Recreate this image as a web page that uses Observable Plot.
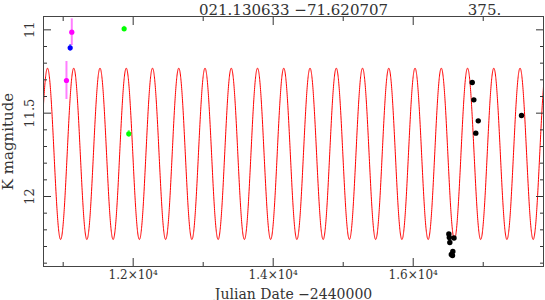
<!DOCTYPE html>
<html><head><meta charset="utf-8">
<script src="https://cdn.jsdelivr.net/npm/d3@7"></script>
<script src="https://cdn.jsdelivr.net/npm/@observablehq/plot@0.6"></script>
<style>body{margin:0;background:#fff} svg{display:block}</style>
</head><body><div id="chart"></div>
<script>
// ---- data ----
const titleCoords = "021.130633 \u221271.620707";
const titlePeriod = "375.";
const xTitle = "Julian Date \u22122440000";
const yTitle = "K magnitude";

// model light curve parameters (sinusoid shown in red)
const period = 375;        // days
const epochMax = 10776;    // JD-2440000 of a brightness maximum
const meanMag = 11.744;
const amplitude = 0.514;

// observations
const magentaT = [11123, 11047];
const magentaK = [11.014, 11.304];
const magentaErr = [0.08, 0.114];

const blueT = [11100];
const blueK = [11.108];
const blueErr = [0.02];

const greenT = [11871, 11937];
const greenK = [10.994, 11.624];
const greenErr = [0.015, 0.02];

const blackT = [16843, 16866, 16929, 16894, 17547, 16509, 16516, 16583, 16523, 16566, 16544, 16561];
const blackK = [11.316, 11.42, 11.546, 11.62, 11.514, 12.225, 12.246, 12.249, 12.276, 12.33, 12.348, 12.354];

// axes
const xDomain = [10719, 17861];
const yDomain = [10.92, 12.42];
const xMajor = [12000, 14000, 16000];
const xMinor = [11000, 13000, 15000, 17000];
const yMajor = [11, 11.5, 12];
const yMinor = [11.1, 11.2, 11.3, 11.4, 11.6, 11.7, 11.8, 11.9, 12.1, 12.2, 12.3, 12.4];

// ---- build tables ----
const model = d3.range(xDomain[0], xDomain[1] + 2, 2).map(t => ({
  t, k: meanMag - amplitude * Math.cos(2 * Math.PI * (t - epochMax) / period)
}));
const pts = (T, K, E, c) => T.map((t, i) => ({t, k: K[i], e: E ? E[i] : 0, c}));
const magenta = pts(magentaT, magentaK, magentaErr, "#ff00ff");
const blue = pts(blueT, blueK, blueErr, "#0000ff");
const green = pts(greenT, greenK, greenErr, "#00ff00");
const black = pts(blackT, blackK, null, "#000000");
const colored = [...magenta, ...blue, ...green];

const ink = "#333333";
const font = "DejaVu Serif";
const fmtX = d => `${(d / 1e4).toFixed(1)}\u00d710\u2074`;
const blank = () => "";

const chart = Plot.plot({
  width: 545, height: 300,
  marginLeft: 43, marginRight: 2, marginTop: 16, marginBottom: 34,
  style: {fontFamily: font, fontSize: "13px", color: ink, background: "#fff"},
  x: {domain: xDomain, label: null},
  y: {domain: yDomain, reverse: true, label: null},
  marks: [
    Plot.line(model, {x: "t", y: "k", stroke: "#ff0000", strokeWidth: 1, clip: true}),
    Plot.ruleX(colored, {x: "t", y1: d => d.k - d.e, y2: d => d.k + d.e, stroke: "c", strokeOpacity: 0.5, strokeWidth: 2, clip: true}),
    Plot.dot(colored, {x: "t", y: "k", r: 2.6, fill: "c", stroke: null}),
    Plot.dot(black, {x: "t", y: "k", r: 2.7, fill: "#000"}),
    // ticks (inward, on all four sides)
    Plot.axisX(xMajor, {anchor: "bottom", tickSize: -8, tickFormat: blank, stroke: ink}),
    Plot.axisX(xMinor, {anchor: "bottom", tickSize: -4, tickFormat: blank, stroke: ink}),
    Plot.axisX(xMajor, {anchor: "top", tickSize: -8, tickFormat: blank, stroke: ink}),
    Plot.axisX(xMinor, {anchor: "top", tickSize: -4, tickFormat: blank, stroke: ink}),
    Plot.axisY(yMajor, {anchor: "left", tickSize: -8, tickFormat: blank, stroke: ink}),
    Plot.axisY(yMinor, {anchor: "left", tickSize: -4, tickFormat: blank, stroke: ink}),
    Plot.axisY(yMajor, {anchor: "right", tickSize: -8, tickFormat: blank, stroke: ink}),
    Plot.axisY(yMinor, {anchor: "right", tickSize: -4, tickFormat: blank, stroke: ink}),
    // tick labels
    Plot.axisX(xMajor, {anchor: "bottom", tickSize: 0, tickPadding: 4, tickFormat: fmtX, fontSize: 12, fill: ink}),
    Plot.text(yMajor, {y: d => d, text: d => String(d), frameAnchor: "left", dx: -14, rotate: -90,
      textAnchor: "middle", lineAnchor: "middle", fontSize: 13, fill: ink}),
    // titles
    Plot.text([xTitle], {frameAnchor: "bottom", dy: 32, lineAnchor: "bottom", fontSize: 14, fill: ink}),
    Plot.text([yTitle], {frameAnchor: "left", dx: -35, rotate: -90, textAnchor: "middle", lineAnchor: "middle", fontSize: 15, fill: ink}),
    Plot.text([titleCoords], {frameAnchor: "top", dy: -2, lineAnchor: "bottom", fontSize: 15, fill: ink}),
    Plot.text([titlePeriod], {frameAnchor: "top-left", dx: 441, dy: -2, textAnchor: "middle", lineAnchor: "bottom", fontSize: 15, fill: ink}),
    Plot.frame({stroke: "#444"})
  ]
});
document.getElementById("chart").append(chart);
</script>
</body></html>
